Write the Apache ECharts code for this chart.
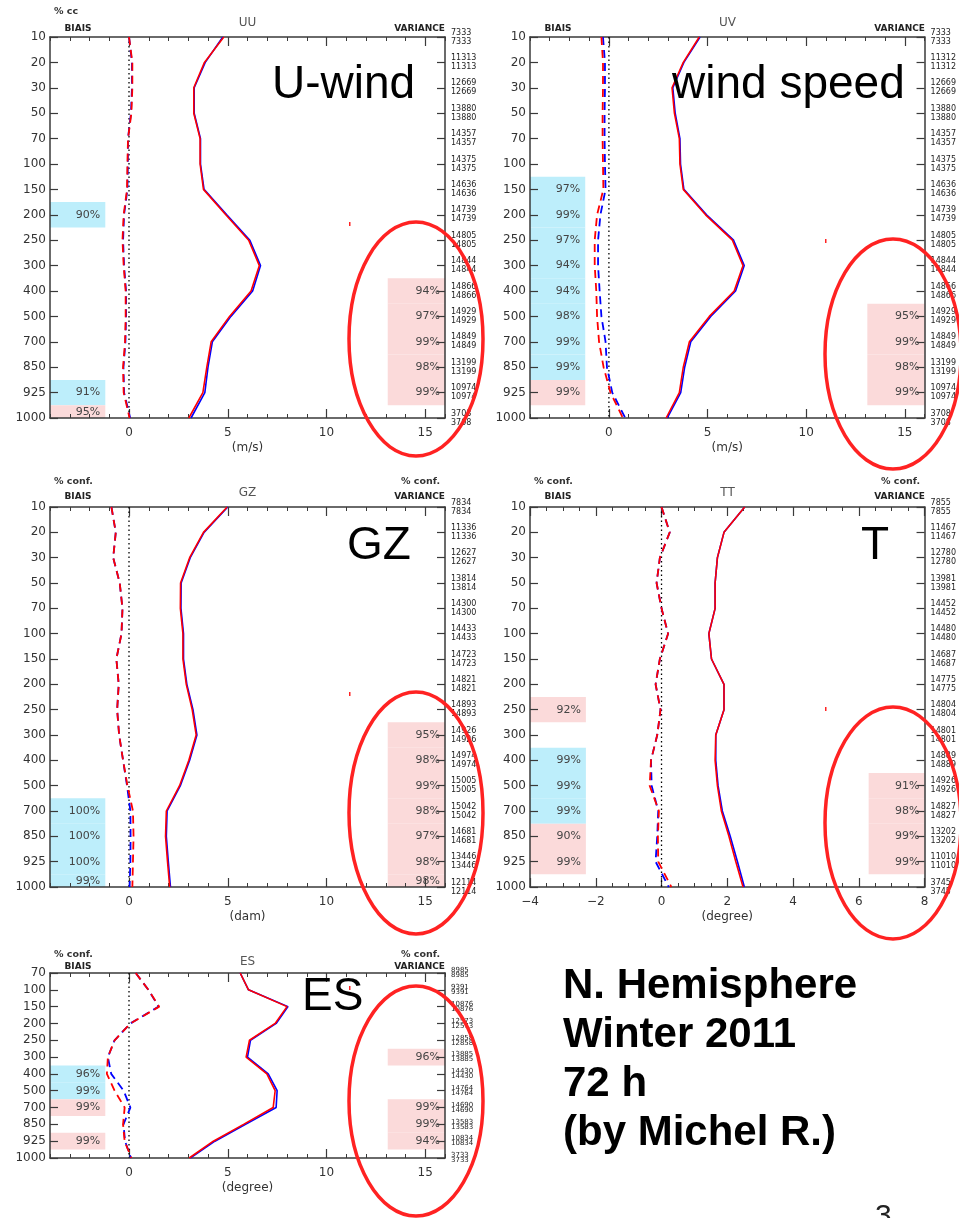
<!DOCTYPE html>
<html>
<head>
<meta charset="utf-8">
<script src="https://cdn.jsdelivr.net/npm/echarts@6/dist/echarts.min.js"></script>
<style>
  html, body { margin: 0; padding: 0; background: #fff; }
  #chart { width: 959px; height: 1218px; }
</style>
</head>
<body>
<div id="chart"></div>
<script>
// Pressure levels (hPa), top to bottom
const levelsFull = ['10','20','30','50','70','100','150','200','250','300','400','500','700','850','925','1000'];
const levelsES = ['70','100','150','200','250','300','400','500','700','850','925','1000'];

// Number of observations per level (same for both experiments)
const uuCounts = [7333,11313,12669,13880,14357,14375,14636,14739,14805,14844,14866,14929,14849,13199,10974,3708];
const uvCounts = [7333,11312,12669,13880,14357,14375,14636,14739,14805,14844,14866,14929,14849,13199,10974,3708];
const gzCounts = [7834,11336,12627,13814,14300,14433,14723,14821,14893,14926,14974,15005,15042,14681,13446,12114];
const ttCounts = [7855,11467,12780,13981,14452,14480,14687,14775,14804,14801,14889,14926,14827,13202,11010,3745];
const esCounts = [8985,9391,10876,12573,12858,13885,14430,14764,14690,13583,10834,3733];

// UU (m/s)
const uuStdRed  = [4.80,3.82,3.28,3.28,3.60,3.60,3.77,4.90,6.06,6.60,6.18,5.09,4.16,3.94,3.74,3.03];
const uuStdBlue = [4.75,3.86,3.30,3.30,3.62,3.62,3.80,4.95,6.12,6.66,6.26,5.16,4.22,4.00,3.84,3.14];
const uuBiasRed  = [0.00,0.17,0.17,0.12,-0.05,-0.08,-0.10,-0.27,-0.33,-0.27,-0.17,-0.17,-0.20,-0.30,-0.27,0.03];
const uuBiasBlue = [0.00,0.15,0.15,0.10,-0.05,-0.06,-0.08,-0.25,-0.30,-0.25,-0.15,-0.15,-0.18,-0.28,-0.25,0.06];

// UV (m/s)
const uvStdRed  = [4.58,3.77,3.20,3.32,3.57,3.60,3.77,4.90,6.26,6.80,6.35,5.09,4.08,3.77,3.57,2.90];
const uvStdBlue = [4.62,3.80,3.24,3.36,3.60,3.63,3.80,4.95,6.32,6.86,6.42,5.16,4.15,3.84,3.64,2.96];
const uvBiasRed  = [-0.38,-0.30,-0.30,-0.32,-0.32,-0.30,-0.28,-0.60,-0.72,-0.72,-0.64,-0.60,-0.50,-0.27,0.08,0.71];
const uvBiasBlue = [-0.30,-0.20,-0.20,-0.22,-0.22,-0.20,-0.17,-0.43,-0.55,-0.55,-0.47,-0.38,-0.17,-0.10,0.17,0.83];

// GZ (dam)
const gzStdRed  = [4.97,3.77,3.07,2.61,2.60,2.73,2.73,2.90,3.20,3.40,3.03,2.56,1.89,1.85,1.95,2.06];
const gzStdBlue = [5.00,3.80,3.10,2.64,2.63,2.76,2.76,2.93,3.24,3.44,3.07,2.60,1.93,1.89,1.99,2.10];
const gzBiasRed  = [-0.89,-0.67,-0.80,-0.47,-0.33,-0.38,-0.64,-0.52,-0.60,-0.50,-0.30,-0.08,0.20,0.23,0.20,0.17];
const gzBiasBlue = [-0.89,-0.67,-0.80,-0.47,-0.33,-0.38,-0.64,-0.52,-0.60,-0.50,-0.30,-0.10,0.07,0.08,0.07,0.03];

// TT (degree)
const ttStdRed  = [2.53,1.90,1.70,1.63,1.63,1.44,1.52,1.90,1.90,1.65,1.63,1.70,1.82,2.05,2.26,2.48];
const ttStdBlue = [2.53,1.90,1.70,1.63,1.63,1.44,1.52,1.90,1.90,1.65,1.65,1.72,1.85,2.09,2.31,2.52];
const ttBiasRed  = [0.00,0.25,-0.05,-0.15,0.00,0.20,-0.05,-0.18,-0.03,-0.13,-0.32,-0.36,-0.08,-0.11,-0.10,0.30];
const ttBiasBlue = [0.00,0.25,-0.05,-0.15,0.00,0.20,-0.05,-0.18,-0.03,-0.13,-0.32,-0.30,-0.10,-0.13,-0.18,0.22];

// ES (degree)
const esStdRed  = [5.63,6.05,8.00,7.40,6.10,5.93,6.98,7.40,7.30,5.80,4.27,3.05];
const esStdBlue = [5.63,6.05,8.05,7.45,6.15,6.00,7.05,7.50,7.45,5.90,4.35,3.10];
const esBiasRed  = [0.34,0.98,1.53,0.07,-0.73,-1.07,-1.12,-0.73,-0.22,-0.30,-0.22,0.12];
const esBiasBlue = [0.34,0.98,1.50,0.07,-0.73,-1.07,-0.90,-0.27,0.07,-0.28,-0.20,0.10];

// Confidence boxes: [level, percent, 'c' = cyan | 'p' = pink]
const uuBiasConf = [['200',90,'c'],['925',91,'c'],['1000',95,'p']];
const uuVarConf  = [['400',94,'p'],['500',97,'p'],['700',99,'p'],['850',98,'p'],['925',99,'p']];
const uvBiasConf = [['150',97,'c'],['200',99,'c'],['250',97,'c'],['300',94,'c'],['400',94,'c'],['500',98,'c'],['700',99,'c'],['850',99,'c'],['925',99,'p']];
const uvVarConf  = [['500',95,'p'],['700',99,'p'],['850',98,'p'],['925',99,'p']];
const gzBiasConf = [['700',100,'c'],['850',100,'c'],['925',100,'c'],['1000',99,'c']];
const gzVarConf  = [['300',95,'p'],['400',98,'p'],['500',99,'p'],['700',98,'p'],['850',97,'p'],['925',98,'p'],['1000',98,'p']];
const ttBiasConf = [['250',92,'p'],['400',99,'c'],['500',99,'c'],['700',99,'c'],['850',90,'p'],['925',99,'p']];
const ttVarConf  = [['500',91,'p'],['700',98,'p'],['850',99,'p'],['925',99,'p']];
const esBiasConf = [['400',96,'c'],['500',99,'c'],['700',99,'p'],['925',99,'p']];
const esVarConf  = [['300',96,'p'],['700',99,'p'],['850',99,'p'],['925',94,'p']];

const FONT = 'DejaVu Sans';
const CYAN = '#bdeefb';
const PINK = '#fbdada';
const RED = '#ff0000';
const BLUE = '#0000ff';
const FRAME = '#3a3a3a';

const panels = [
  { title: 'UU', levels: levelsFull, counts: uuCounts, stdRed: uuStdRed, stdBlue: uuStdBlue, biasRed: uuBiasRed, biasBlue: uuBiasBlue,
    biasConf: uuBiasConf, varConf: uuVarConf, unit: '(m/s)', rect: [50, 37, 395, 381], xMin: -4, xMax: 16, majors: [0,5,10,15], minor: 1,
    leftBox: [-4, -1.2], rightBox: [13.1, 16], confL: '% cc', confR: '', hdr: [-25, -8, -14], countLH: 9, countFS: 8, countPad: 6 },
  { title: 'UV', levels: levelsFull, counts: uvCounts, stdRed: uvStdRed, stdBlue: uvStdBlue, biasRed: uvBiasRed, biasBlue: uvBiasBlue,
    biasConf: uvBiasConf, varConf: uvVarConf, unit: '(m/s)', rect: [530, 37, 395, 381], xMin: -4, xMax: 16, majors: [0,5,10,15], minor: 1,
    leftBox: [-4, -1.2], rightBox: [13.1, 16], confL: '', confR: '', hdr: [-25, -8, -14], countLH: 9, countFS: 8, countPad: 6 },
  { title: 'GZ', levels: levelsFull, counts: gzCounts, stdRed: gzStdRed, stdBlue: gzStdBlue, biasRed: gzBiasRed, biasBlue: gzBiasBlue,
    biasConf: gzBiasConf, varConf: gzVarConf, unit: '(dam)', rect: [50, 507, 395, 380], xMin: -4, xMax: 16, majors: [0,5,10,15], minor: 1,
    leftBox: [-4, -1.2], rightBox: [13.1, 16], confL: '% conf.', confR: '% conf.', hdr: [-25, -10, -14], countLH: 9, countFS: 8, countPad: 6 },
  { title: 'TT', levels: levelsFull, counts: ttCounts, stdRed: ttStdRed, stdBlue: ttStdBlue, biasRed: ttBiasRed, biasBlue: ttBiasBlue,
    biasConf: ttBiasConf, varConf: ttVarConf, unit: '(degree)', rect: [530, 507, 395, 380], xMin: -4, xMax: 8, majors: [-4,-2,0,2,4,6,8], minor: 0.5,
    leftBox: [-4, -2.3], rightBox: [6.3, 8], confL: '% conf.', confR: '% conf.', hdr: [-25, -10, -14], countLH: 9, countFS: 8, countPad: 6 },
  { title: 'ES', levels: levelsES, counts: esCounts, stdRed: esStdRed, stdBlue: esStdBlue, biasRed: esBiasRed, biasBlue: esBiasBlue,
    biasConf: esBiasConf, varConf: esVarConf, unit: '(degree)', rect: [50, 973, 395, 185], xMin: -4, xMax: 16, majors: [0,5,10,15], minor: 1,
    leftBox: [-4, -1.2], rightBox: [13.1, 16], confL: '% conf.', confR: '% conf.', hdr: [-18, -6, -11], countLH: 5, countFS: 7, countPad: 4 }
];

const grids = [], xAxes = [], yAxes = [], series = [], graphics = [];

function fmtNum(v) { return v < 0 ? '\u2212' + Math.abs(v) : String(v); }

function confAreas(conf, levels, box) {
  return conf.map(([lv, pct, kind]) => {
    const i = levels.indexOf(lv);
    return [
      { xAxis: box[0], yAxis: i - 0.5, itemStyle: { color: kind === 'c' ? CYAN : PINK },
        label: { show: true, position: 'insideRight', distance: 5, formatter: pct + '%', color: '#444', fontSize: 11, fontFamily: FONT } },
      { xAxis: box[1], yAxis: i + 0.5 }
    ];
  });
}

panels.forEach((p, gi) => {
  const [left, top, width, height] = p.rect;
  const n = p.levels.length;
  grids.push({ left, top, width, height, containLabel: false });

  const xi = xAxes.length;
  const base = { type: 'value', gridIndex: gi, min: p.xMin, max: p.xMax, splitLine: { show: false } };
  // bottom axis: frame line, major ticks, labels, unit
  xAxes.push(Object.assign({}, base, {
    position: 'bottom',
    axisLine: { show: true, onZero: false, lineStyle: { color: FRAME, width: 1.5 } },
    axisTick: { show: true, inside: true, length: 9, customValues: p.majors, lineStyle: { color: FRAME, width: 1.2 } },
    axisLabel: { show: true, customValues: p.majors, formatter: fmtNum, margin: 9, color: '#333', fontSize: 12, fontFamily: FONT,
                 showMinLabel: true, showMaxLabel: true },
    name: p.unit, nameLocation: 'middle', nameGap: 24, nameTextStyle: { color: '#333', fontSize: 12, fontFamily: FONT }
  }));
  // bottom minor ticks
  xAxes.push(Object.assign({}, base, {
    position: 'bottom', interval: p.minor,
    axisLine: { show: false, onZero: false },
    axisTick: { show: true, inside: true, length: 4, lineStyle: { color: FRAME, width: 1 } },
    axisLabel: { show: false }
  }));
  // top frame with major ticks
  xAxes.push(Object.assign({}, base, {
    position: 'top',
    axisLine: { show: true, onZero: false, lineStyle: { color: FRAME, width: 1.5 } },
    axisTick: { show: true, inside: true, length: 9, customValues: p.majors, lineStyle: { color: FRAME, width: 1.2 } },
    axisLabel: { show: false }
  }));
  // top minor ticks
  xAxes.push(Object.assign({}, base, {
    position: 'top', interval: p.minor,
    axisLine: { show: false, onZero: false },
    axisTick: { show: true, inside: true, length: 4, lineStyle: { color: FRAME, width: 1 } },
    axisLabel: { show: false }
  }));

  const yi = yAxes.length;
  const ybase = { type: 'value', gridIndex: gi, min: 0, max: n - 1, interval: 1, inverse: true, splitLine: { show: false } };
  yAxes.push(Object.assign({}, ybase, {
    position: 'left',
    axisLine: { show: true, onZero: false, lineStyle: { color: FRAME, width: 1.5 } },
    axisTick: { show: true, inside: true, length: 8, lineStyle: { color: FRAME, width: 1.2 } },
    axisLabel: { formatter: v => p.levels[Math.round(v)] || '', margin: 4, color: '#333', fontSize: 12, fontFamily: FONT,
                 showMinLabel: true, showMaxLabel: true }
  }));
  yAxes.push(Object.assign({}, ybase, {
    position: 'right',
    axisLine: { show: true, onZero: false, lineStyle: { color: FRAME, width: 1.5 } },
    axisTick: { show: true, inside: true, length: 8, lineStyle: { color: FRAME, width: 1.2 } },
    axisLabel: {
      formatter: v => { const c = p.counts[Math.round(v)]; return c === undefined ? '' : c + '\n' + c; },
      margin: 6, color: '#222', fontSize: p.countFS, lineHeight: p.countLH, fontFamily: FONT,
      padding: [0, 0, p.countPad, 0], showMinLabel: true, showMaxLabel: true, hideOverlap: false
    }
  }));

  const toPts = arr => arr.map((v, i) => [v, i]);

  // zero reference line, carrying the confidence boxes
  series.push({
    type: 'line', xAxisIndex: xi, yAxisIndex: yi, z: 1, clip: true, silent: true,
    data: [[0, 0], [0, n - 1]], symbol: 'none',
    lineStyle: { color: '#000', width: 1.3, type: [1.5, 3] },
    markArea: { silent: true, z: 0, data: confAreas(p.biasConf, p.levels, p.leftBox).concat(confAreas(p.varConf, p.levels, p.rightBox)) }
  });
  const lineSeries = (data, color, dashed) => ({
    type: 'line', xAxisIndex: xi, yAxisIndex: yi, z: 3, clip: true, silent: true,
    data: toPts(data), symbol: 'none',
    lineStyle: { color, width: dashed ? 1.8 : 1.6, type: dashed ? [8, 5] : 'solid' }
  });
  series.push(lineSeries(p.stdBlue, BLUE, false));
  series.push(lineSeries(p.stdRed, RED, false));
  series.push(lineSeries(p.biasBlue, BLUE, true));
  series.push(lineSeries(p.biasRed, RED, true));

  // panel header texts
  const hText = (x, y, text, align, size, weight, color) => ({
    type: 'text', x, y, z: 10, silent: true,
    style: { text, align, verticalAlign: 'middle', fontSize: size, fontWeight: weight, fontFamily: FONT, fill: color }
  });
  if (p.confL) graphics.push(hText(left + 4, top + p.hdr[0], p.confL, 'left', 9.5, 'bold', '#333'));
  if (p.confR) graphics.push(hText(left + width - 5, top + p.hdr[0], p.confR, 'right', 9.5, 'bold', '#333'));
  graphics.push(hText(left + 28, top + p.hdr[1], 'BIAIS', 'center', 9, 'bold', '#222'));
  graphics.push(hText(left + width, top + p.hdr[1], 'VARIANCE', 'right', 9, 'bold', '#222'));
  graphics.push(hText(left + width / 2, top + p.hdr[2], p.title, 'center', 12, 'normal', '#555'));
});

// Variable names written over the panels
const bigLabel = (x, y, text) => ({
  type: 'text', x, y, z: 20, silent: true,
  style: { text, align: 'left', verticalAlign: 'middle', fontSize: 46, fontFamily: 'Liberation Sans', fill: '#000' }
});
graphics.push(bigLabel(272, 85, 'U-wind'));
graphics.push(bigLabel(672, 85, 'wind speed'));
graphics.push(bigLabel(347, 546, 'GZ'));
graphics.push(bigLabel(861, 546, 'T'));
graphics.push(bigLabel(302, 997, 'ES'));

// Summary block
['N. Hemisphere', 'Winter 2011', '72 h', '(by Michel R.)'].forEach((t, i) => {
  graphics.push({
    type: 'text', x: 563, y: 986 + i * 49, z: 20, silent: true,
    style: { text: t, align: 'left', verticalAlign: 'middle', fontSize: 42, fontWeight: 'bold', fontFamily: 'Liberation Sans', fill: '#000' }
  });
});

// Highlight ellipses around the variance confidence columns
const ellipses = [
  { cx: 416, cy: 339, rx: 67, ry: 117 },
  { cx: 893, cy: 354, rx: 68, ry: 115 },
  { cx: 416, cy: 813, rx: 67, ry: 121 },
  { cx: 893, cy: 823, rx: 68, ry: 116 },
  { cx: 416, cy: 1101, rx: 67, ry: 115 }
];
ellipses.forEach(e => {
  graphics.push({ type: 'ellipse', z: 30, silent: true, shape: e, style: { fill: 'none', stroke: '#ff2222', lineWidth: 3.5 } });
  graphics.push({ type: 'rect', z: 30, silent: true, shape: { x: e.cx - e.rx, y: e.cy - e.ry, width: 1.5, height: 4 }, style: { fill: '#ff2222' } });
});

// slide page number, mostly off the bottom edge
graphics.push({
  type: 'text', x: 875, y: 1202, z: 20, silent: true,
  style: { text: '3', align: 'left', verticalAlign: 'top', fontSize: 30, fontFamily: 'Liberation Sans', fill: '#222' }
});

const chart = echarts.init(document.getElementById('chart'), null, { renderer: 'canvas' });
chart.setOption({
  animation: false,
  backgroundColor: '#fff',
  grid: grids,
  xAxis: xAxes,
  yAxis: yAxes,
  series,
  graphic: graphics
});
</script>
</body>
</html>
